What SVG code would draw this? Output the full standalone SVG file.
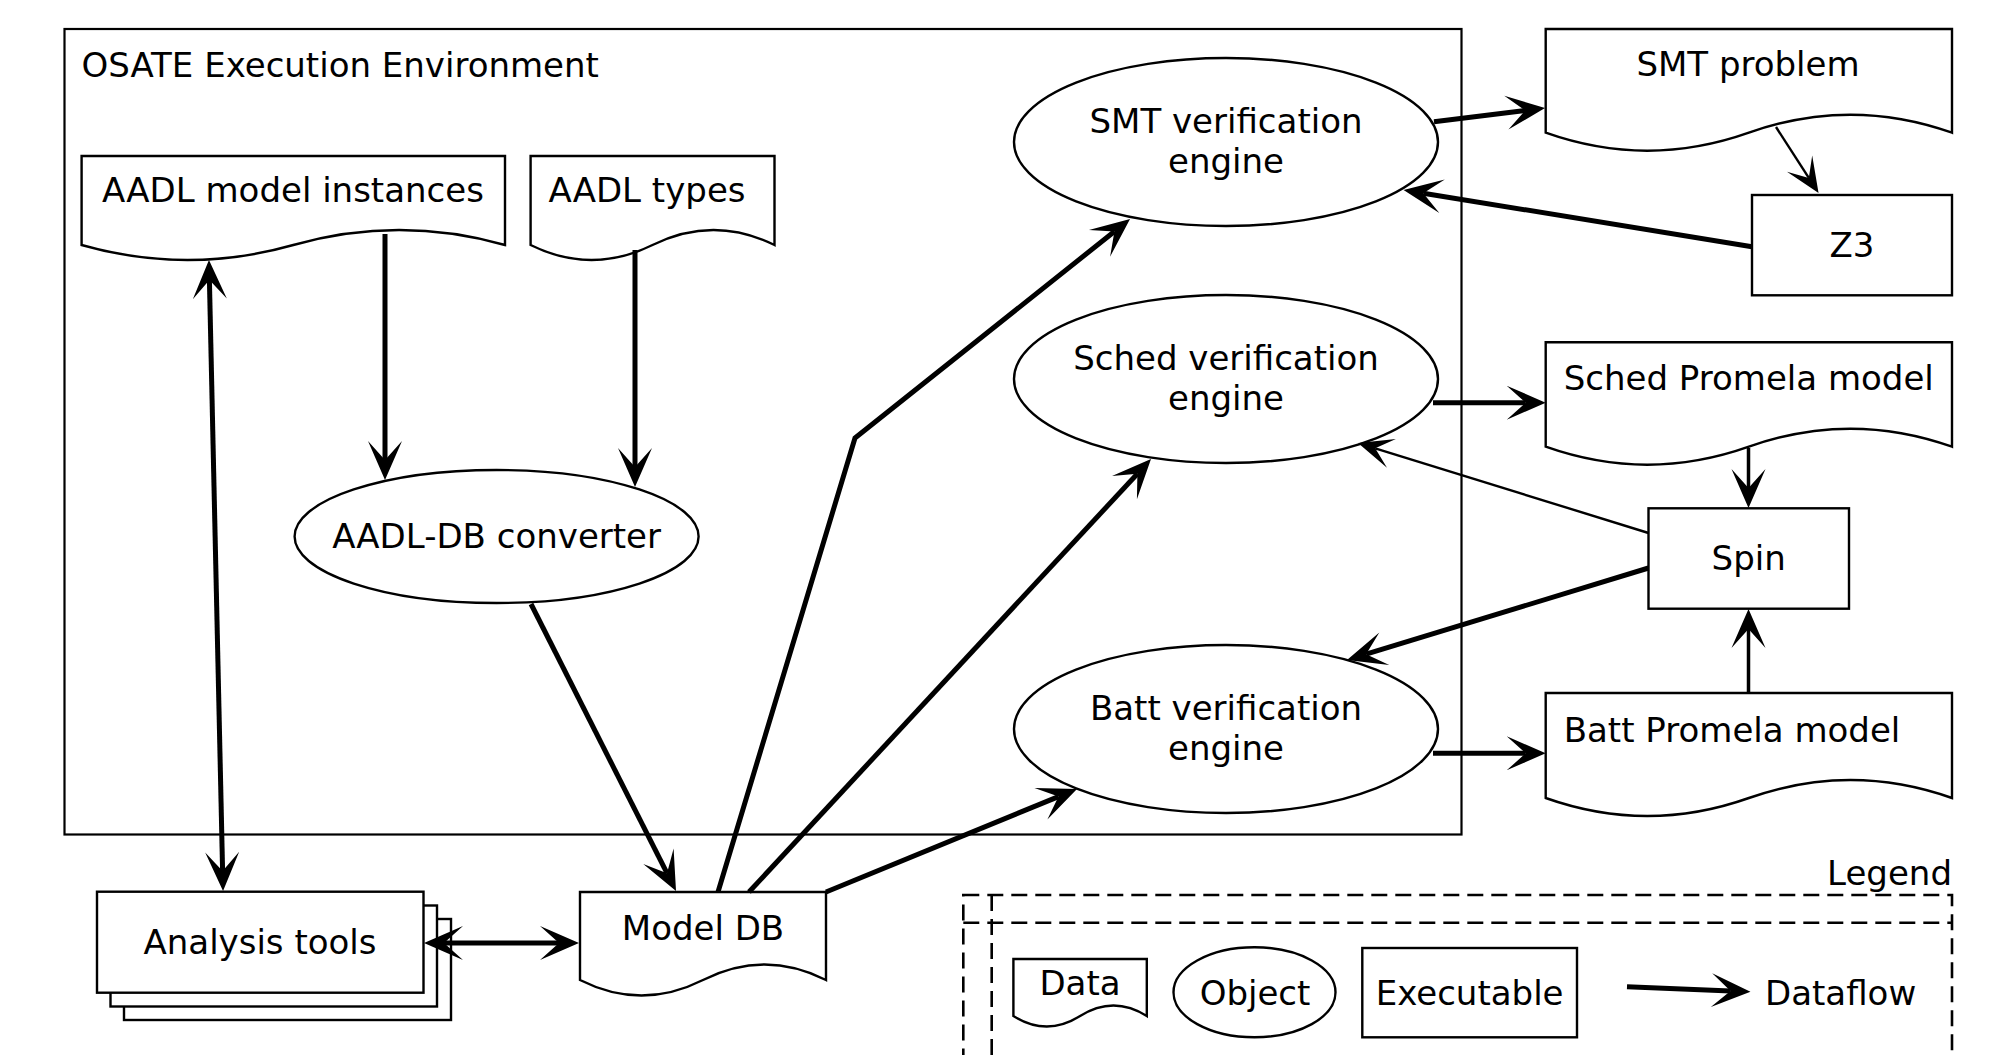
<svg xmlns="http://www.w3.org/2000/svg" width="1996" height="1055" viewBox="0 0 1996 1055">
<style>
  text { font-family: "DejaVu Sans", "Liberation Sans", sans-serif; font-size: 34px; fill: #000; }
  .c { text-anchor: middle; }
  .node { fill: #fff; stroke: #000; stroke-width: 2.4; }
  .edge { fill: none; stroke: #000; stroke-linejoin: miter; }
  .thick { stroke-width: 5; marker-end: url(#ah); }
  .med { stroke-width: 3.5; marker-end: url(#ah); }
  .thin { stroke-width: 2.4; marker-end: url(#aht); }
  .both { marker-start: url(#ah); }
  .dash { fill: none; stroke: #000; stroke-width: 2.6; stroke-dasharray: 16 8; }
</style>
<defs>
  <marker id="ah" markerUnits="userSpaceOnUse" markerWidth="40" markerHeight="40" refX="0" refY="0" orient="auto-start-reverse" overflow="visible">
    <path d="M20,0 L-19,-17 L0,0 L-19,17 Z" fill="#000"/>
  </marker>
  <marker id="aht" markerUnits="userSpaceOnUse" markerWidth="40" markerHeight="40" refX="0" refY="0" orient="auto" overflow="visible">
    <path d="M18,0 L-17,-15 L0,0 L-17,15 Z" fill="#000"/>
  </marker>
</defs>
<rect width="1996" height="1055" fill="#fff"/>

<g id="osate-env">
  <rect x="64.5" y="29" width="1397" height="805.5" fill="none" stroke="#000" stroke-width="2.2"/>
  <text x="81.5" y="77">OSATE Execution Environment</text>
</g>

<g id="aadl-model-instances">
  <path class="node" d="M81.6,156 H505 V245 Q399.1,215 293.3,245 Q187.5,275 81.6,245 Z"/>
  <text x="293" y="202" class="c">AADL model instances</text>
</g>
<g id="aadl-types">
  <path class="node" d="M530.6,156 H774.5 V245 Q713.5,215 652.5,245 Q591.6,275 530.6,245 Z"/>
  <text x="647" y="202" class="c">AADL types</text>
</g>
<g id="aadl-db-converter">
  <ellipse class="node" cx="496.6" cy="536.5" rx="202" ry="66.5"/>
  <text x="496.6" y="548" class="c">AADL-DB converter</text>
</g>
<g id="smt-engine">
  <ellipse class="node" cx="1226" cy="142" rx="212" ry="84"/>
  <text x="1226" y="133" class="c">SMT verification</text>
  <text x="1226" y="173" class="c">engine</text>
</g>
<g id="sched-engine">
  <ellipse class="node" cx="1226" cy="379" rx="212" ry="84"/>
  <text x="1226" y="370" class="c">Sched verification</text>
  <text x="1226" y="410" class="c">engine</text>
</g>
<g id="batt-engine">
  <ellipse class="node" cx="1226" cy="729" rx="212" ry="84"/>
  <text x="1226" y="720" class="c">Batt verification</text>
  <text x="1226" y="760" class="c">engine</text>
</g>
<g id="smt-problem">
  <path class="node" d="M1545.7,29 H1952 V132.7 Q1850.4,96.7 1748.9,132.7 Q1647.3,168.7 1545.7,132.7 Z"/>
  <text x="1748" y="76" class="c">SMT problem</text>
</g>
<g id="z3">
  <rect class="node" x="1752" y="195" width="200" height="100.3"/>
  <text x="1852" y="257" class="c">Z3</text>
</g>
<g id="sched-promela">
  <path class="node" d="M1545.7,342.3 H1952 V446.7 Q1850.4,410.7 1748.9,446.7 Q1647.3,482.7 1545.7,446.7 Z"/>
  <text x="1563.7" y="390">Sched Promela model</text>
</g>
<g id="spin">
  <rect class="node" x="1648.5" y="508.3" width="200.5" height="100.4"/>
  <text x="1748.7" y="570" class="c">Spin</text>
</g>
<g id="batt-promela">
  <path class="node" d="M1545.7,693 H1952 V798 Q1850.4,762 1748.9,798 Q1647.3,834 1545.7,798 Z"/>
  <text x="1563.7" y="741.7">Batt Promela model</text>
</g>
<g id="analysis-tools">
  <rect class="node" x="124" y="919" width="327" height="101"/>
  <rect class="node" x="110.5" y="905.5" width="326.5" height="101"/>
  <rect class="node" x="97" y="891.7" width="326.5" height="101"/>
  <text x="260" y="954" class="c">Analysis tools</text>
</g>
<g id="model-db">
  <path class="node" d="M580,892 H826 V980 Q764.5,949 703,980 Q641.5,1011 580,980 Z"/>
  <text x="703" y="940" class="c">Model DB</text>
</g>

<g id="legend">
  <text x="1952" y="885" style="text-anchor:end">Legend</text>
  <rect class="dash" x="963.3" y="895" width="988.7" height="200"/>
  <line class="dash" x1="963.3" y1="922.7" x2="1952" y2="922.7"/>
  <line class="dash" x1="991.7" y1="895" x2="991.7" y2="1095"/>
  <g id="legend-data">
    <path class="node" d="M1013.4,959 H1146.8 V1016 Q1113.5,995 1080.1,1016 Q1046.8,1037 1013.4,1016 Z"/>
    <text x="1080" y="995" class="c">Data</text>
  </g>
  <g id="legend-object">
    <ellipse class="node" cx="1254.5" cy="992.3" rx="81" ry="45"/>
    <text x="1255" y="1005" class="c">Object</text>
  </g>
  <g id="legend-executable">
    <rect class="node" x="1362.3" y="948" width="214.7" height="89.3"/>
    <text x="1469.6" y="1005" class="c">Executable</text>
  </g>
  <g id="legend-dataflow">
    <path class="edge thick" d="M1627,986.7 L1730.5,990.9"/>
    <text x="1765" y="1005">Dataflow</text>
  </g>
</g>

<g id="connectors">
  <path class="edge thick" d="M385,234 V460"/>
  <path class="edge thick" d="M635,250 V467"/>
  <path class="edge thick" d="M531,604 L667,873.2"/>
  <path class="edge thick both" d="M209.4,280 L222.6,871"/>
  <path class="edge thick both" d="M444,943 H559"/>
  <path class="edge thick" d="M718,892 L855,438 L1114.4,231.5"/>
  <path class="edge thick" d="M749,892 L1137.4,473.7"/>
  <path class="edge thick" d="M826,892 L1058.5,796.6"/>
  <path class="edge thick" d="M1434,121.7 L1525.2,110.4"/>
  <path class="edge thick" d="M1752,246.7 L1423.3,193.2"/>
  <path class="edge thin" d="M1776,127 L1808.8,177.9"/>
  <path class="edge thick" d="M1433,402.7 H1525.7"/>
  <path class="edge med" d="M1748.5,448 V488"/>
  <path class="edge med" d="M1748.5,693 V629"/>
  <path class="edge thin" d="M1648.5,533 L1375.2,448.3"/>
  <path class="edge thick" d="M1648.5,568 L1366.1,654.2"/>
  <path class="edge thick" d="M1433,753.3 H1525.7"/>
</g>
</svg>
